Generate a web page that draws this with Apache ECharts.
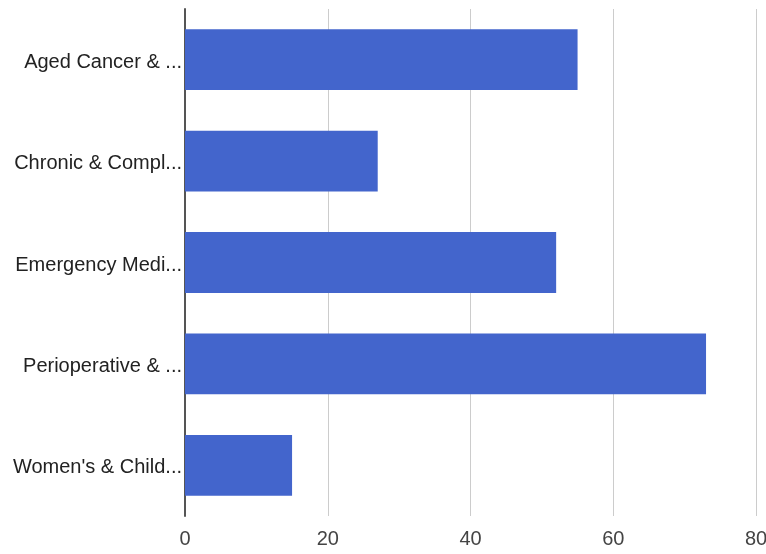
<!DOCTYPE html>
<html>
<head>
<meta charset="utf-8">
<script src="https://cdn.jsdelivr.net/npm/echarts@6/dist/echarts.min.js"></script>
<style>html,body{margin:0;padding:0;background:#fff}#c{width:766px;height:554px}</style>
</head>
<body>
<div id="c"></div>
<script>
var categories = ["Aged Cancer & ...", "Chronic & Compl...", "Emergency Medi...", "Perioperative & ...", "Women's & Child..."];
var values = [55, 27, 52, 73, 15];
var xTicks = [0, 20, 40, 60, 80];

var chart = echarts.init(document.getElementById('c'), null, {renderer: 'canvas'});
chart.setOption({
  animation: false,
  grid: {left: 185, right: 10, top: 9, bottom: 38, containLabel: false, outerBoundsMode: 'none'},
  xAxis: {
    type: 'value', min: xTicks[0], max: xTicks[xTicks.length - 1], interval: 20,
    axisLine: {show: false}, axisTick: {show: false},
    splitLine: {show: true, lineStyle: {color: '#cccccc', width: 1}},
    axisLabel: {color: '#444', fontFamily: 'Liberation Sans, Arial', fontSize: 20, margin: 13}
  },
  yAxis: {
    type: 'category', data: categories, inverse: true,
    axisLine: {show: true, lineStyle: {color: '#555', width: 2}},
    axisTick: {show: false},
    axisLabel: {
      margin: 3,
      formatter: function (v) { return '{a|' + v + '}'; },
      rich: {a: {color: '#222', fontFamily: 'Liberation Sans, Arial', fontSize: 20, padding: [5, 0, 0, 0]}}
    }
  },
  series: [{
    type: 'bar', data: values, barWidth: '60%',
    itemStyle: {color: '#4365cc'}
  }]
});
</script>
</body>
</html>
